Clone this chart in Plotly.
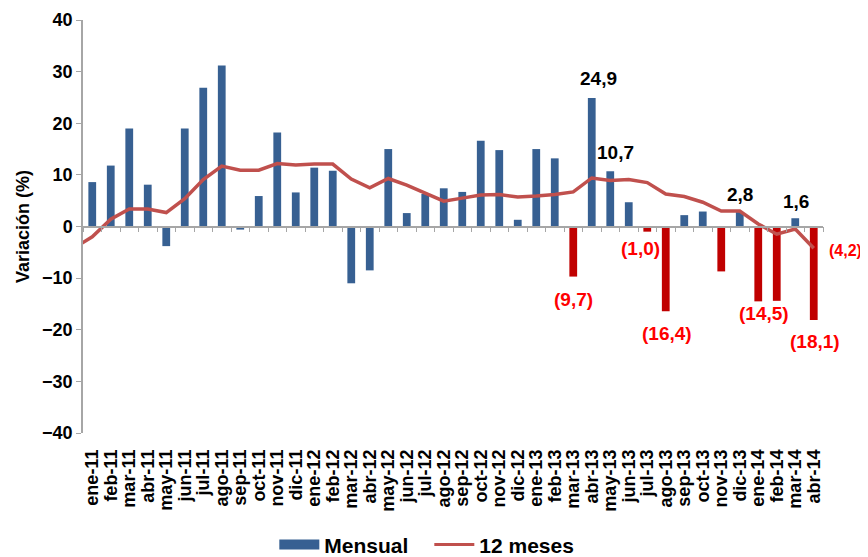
import plotly.graph_objects as go

# Meses (ene-11 .. abr-14)
meses = [
    "ene-11", "feb-11", "mar-11", "abr-11", "may-11", "jun-11", "jul-11", "ago-11",
    "sep-11", "oct-11", "nov-11", "dic-11",
    "ene-12", "feb-12", "mar-12", "abr-12", "may-12", "jun-12", "jul-12", "ago-12",
    "sep-12", "oct-12", "nov-12", "dic-12",
    "ene-13", "feb-13", "mar-13", "abr-13", "may-13", "jun-13", "jul-13", "ago-13",
    "sep-13", "oct-13", "nov-13", "dic-13",
    "ene-14", "feb-14", "mar-14", "abr-14",
]

# Variación mensual (%)
mensual = [
    8.6, 11.8, 19.0, 8.1, -3.8, 19.0, 26.9, 31.2, -0.6, 5.9, 18.2, 6.6,
    11.4, 10.8, -11.0, -8.5, 15.0, 2.6, 6.3, 7.4, 6.7, 16.6, 14.8, 1.3,
    15.0, 13.2, -9.7, 24.9, 10.7, 4.7, -1.0, -16.4, 2.2, 2.9, -8.7, 2.8,
    -14.5, -14.4, 1.6, -18.1,
]

# Variación 12 meses (%), incluye dic-10 (fuera del rango visible)
mes_previo = "dic-10"
doce_meses = [
    -4.2,
    -2.0, 1.4, 3.4, 3.4, 2.7, 5.4, 9.1, 11.7, 10.9, 10.9, 12.2, 11.9,
    12.1, 12.1, 9.2, 7.5, 9.3, 8.0, 6.5, 4.9, 5.5, 6.1, 6.2, 5.7,
    5.9, 6.2, 6.7, 9.4, 8.9, 9.1, 8.5, 6.3, 5.8, 4.7, 3.0, 3.0,
    0.5, -1.5, -0.5, -4.2,
]

# Meses con etiqueta de dato
etiquetados = ["mar-13", "abr-13", "may-13", "jul-13", "ago-13", "dic-13",
               "ene-14", "mar-14", "abr-14"]

FONT = "Liberation Sans, Arial, sans-serif"
AZUL = "#376092"
ROJO_BARRA = "#C00000"
ROJO_LINEA = "#C0504D"
ROJO_TXT = "#FF0000"
GRIS = "#A6A6A6"

cats = [mes_previo] + meses
colores = [ROJO_BARRA if (v < 0 and i >= 24) else AZUL for i, v in enumerate(mensual)]

fig = go.Figure()
fig.add_trace(go.Bar(
    x=meses, y=mensual, marker=dict(color=colores, line=dict(width=0)),
    showlegend=False, hoverinfo="x+y",
))
fig.add_trace(go.Scatter(
    x=cats, y=doce_meses, mode="lines", xaxis="x2",
    line=dict(color=ROJO_LINEA, width=3.5), showlegend=False,
))
# entradas de leyenda
fig.add_trace(go.Scatter(x=[None], y=[None], mode="lines", name="Mensual",
                         line=dict(color=AZUL, width=10)))
fig.add_trace(go.Scatter(x=[None], y=[None], mode="lines", name="12 meses",
                         line=dict(color=ROJO_LINEA, width=3)))

# desplazamientos de etiquetas (px)
desp = {
    "mar-13": (0, -23), "abr-13": (7, 19), "may-13": (5, 19), "jul-13": (-7, -17),
    "ago-13": (1, -22), "dic-13": (0, 18), "ene-14": (6, -12), "mar-14": (1, 17),
    "abr-14": (1, -22),
}
for m in etiquetados:
    v = mensual[meses.index(m)]
    txt = f"{abs(v):.1f}".replace(".", ",")
    if v < 0:
        txt = f"({txt})"
    dx, dy = desp[m]
    fig.add_annotation(
        x=m, y=v, text=txt, showarrow=False, xshift=dx, yshift=dy,
        font=dict(family=FONT, size=19, color=ROJO_TXT if v < 0 else "black", weight="bold"),
    )

# etiqueta del último dato a 12 meses
ult = doce_meses[-1]
fig.add_annotation(
    x=meses[-1], y=ult, xref="x2", text=f"({abs(ult):.1f})".replace(".", ","),
    showarrow=False, xanchor="left", xshift=14, yshift=-2, borderpad=0,
    font=dict(family=FONT, size=16, color=ROJO_TXT, weight="bold"),
)

rango_x = [0.5, len(cats) - 0.5]
fig.update_layout(
    width=860, height=549,
    margin=dict(l=75, r=45, t=12, b=124, autoexpand=False),
    paper_bgcolor="white", plot_bgcolor="white",
    font=dict(family=FONT, color="black"),
    bargap=0.58,
    xaxis=dict(
        type="category", categoryorder="array", categoryarray=cats, range=rango_x,
        tickmode="array", tickvals=meses, ticktext=meses,
        tickangle=-90, showline=False, ticks="", showgrid=False, automargin=False,
        ticklabelstandoff=12,
        tickfont=dict(family=FONT, size=18, color="black", weight="bold"),
    ),
    xaxis2=dict(
        type="category", categoryorder="array", categoryarray=cats, range=rango_x,
        overlaying="x", anchor="free", position=0.5, side="bottom",
        showline=True, linecolor=GRIS, linewidth=1.5,
        ticks="outside", tickson="boundaries", ticklen=5, tickcolor=GRIS,
        showticklabels=False, showgrid=False, automargin=False,
    ),
    yaxis=dict(
        range=[-40, 40], dtick=10, showgrid=False, zeroline=False,
        showline=True, linecolor=GRIS, linewidth=1.5, automargin=False,
        ticks="outside", ticklen=5, tickcolor=GRIS,
        tickfont=dict(family=FONT, size=18, color="black", weight="bold"),
        title=dict(text="Variación (%)", standoff=8,
                   font=dict(family=FONT, size=18, color="black", weight="bold")),
    ),
    legend=dict(
        orientation="h", x=0.468, xanchor="center", y=-0.271, yanchor="middle",
        font=dict(family=FONT, size=21, color="black", weight="bold"),
        itemwidth=40, tracegroupgap=0, entrywidth=100,
    ),
)

fig.write_html("out.html")
